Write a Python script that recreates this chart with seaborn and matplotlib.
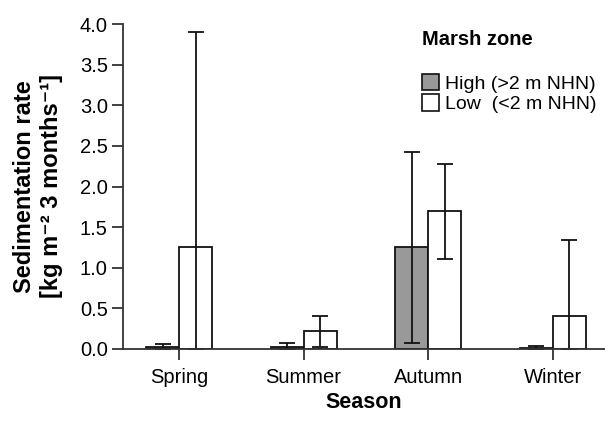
import numpy as np
import pandas as pd
import matplotlib
matplotlib.use('Agg')
import matplotlib.pyplot as plt
import seaborn as sns

# data
seasons = ['Spring', 'Summer', 'Autumn', 'Winter']
zones = ['High (>2 m NHN)', 'Low  (<2 m NHN)']
high_mean = [0.03, 0.03, 1.25, 0.01]
high_err_lo = [0.03, 0.03, 1.18, 0.01]
high_err_hi = [0.03, 0.04, 1.17, 0.03]
low_mean = [1.25, 0.22, 1.70, 0.41]
low_err_lo = [1.25, 0.19, 0.59, 0.41]
low_err_hi = [2.65, 0.19, 0.58, 0.93]

sns.set_theme(style='ticks')
plt.rcParams['font.family'] = ['Liberation Sans', 'DejaVu Sans']
plt.rcParams['text.color'] = 'black'
plt.rcParams['axes.labelcolor'] = 'black'
plt.rcParams['xtick.labelcolor'] = 'black'
plt.rcParams['ytick.labelcolor'] = 'black'

df = pd.DataFrame({
    'Season': seasons * 2,
    'Zone': [zones[0]] * 4 + [zones[1]] * 4,
    'Rate': high_mean + low_mean,
})

fig = plt.figure(figsize=(6.05, 4.21), dpi=100)
ax = fig.add_axes([123 / 605, 72 / 421, 482 / 605, 325 / 421])

sns.barplot(data=df, x='Season', y='Rate', hue='Zone', order=seasons,
            hue_order=zones, palette=['#999999', '#ffffff'], width=0.53,
            gap=0, errorbar=None, edgecolor='#111111', linewidth=1.3,
            saturation=1, ax=ax)

# error bars (SD, clipped at zero)
errs = [(high_err_lo, high_err_hi), (low_err_lo, low_err_hi)]
for cont, means, (lo, hi) in zip(ax.containers, [high_mean, low_mean], errs):
    xs = [b.get_x() + b.get_width() / 2 for b in cont]
    ax.errorbar(xs, means, yerr=[lo, hi], fmt='none', ecolor='#111111',
                elinewidth=1.3, capsize=5.5, capthick=1.3)

ax.set_xlim(-0.45, 3.42)
ax.set_ylim(0, 4.0)
ax.set_yticks(np.arange(0, 4.01, 0.5))
ax.set_yticklabels([f'{v:.1f}' for v in np.arange(0, 4.01, 0.5)])
ax.tick_params(axis='both', direction='out', length=8, width=1.3,
               color='#333333', labelsize=14.5, pad=3)
ax.tick_params(axis='x', pad=6)
for s in ['top', 'right']:
    ax.spines[s].set_visible(False)
for s in ['left', 'bottom']:
    ax.spines[s].set_color('#333333')
    ax.spines[s].set_linewidth(1.3)

ax.set_xlabel('Season', fontsize=15.5, fontweight='bold', labelpad=3)
ax.set_ylabel('Sedimentation rate\n[kg m\u207b\u00b2 3 months\u207b\u00b9]',
              fontsize=17, fontweight='bold', labelpad=12, linespacing=1.2)

leg = ax.legend(title='Marsh zone', loc='upper left',
                bbox_to_anchor=(414 / 605, 1 - 22 / 421),
                bbox_transform=fig.transFigure, frameon=False,
                fontsize=14, title_fontsize=14.5, handlelength=0.9,
                handleheight=0.9, handletextpad=0.3, labelspacing=0.1,
                alignment='left', borderaxespad=0)
leg.get_title().set_fontweight('bold')
leg._legend_box.sep = 18
for h in leg.legend_handles:
    h.set_edgecolor('#111111')
    h.set_linewidth(1.2)

fig.savefig('out.png', dpi=100)
